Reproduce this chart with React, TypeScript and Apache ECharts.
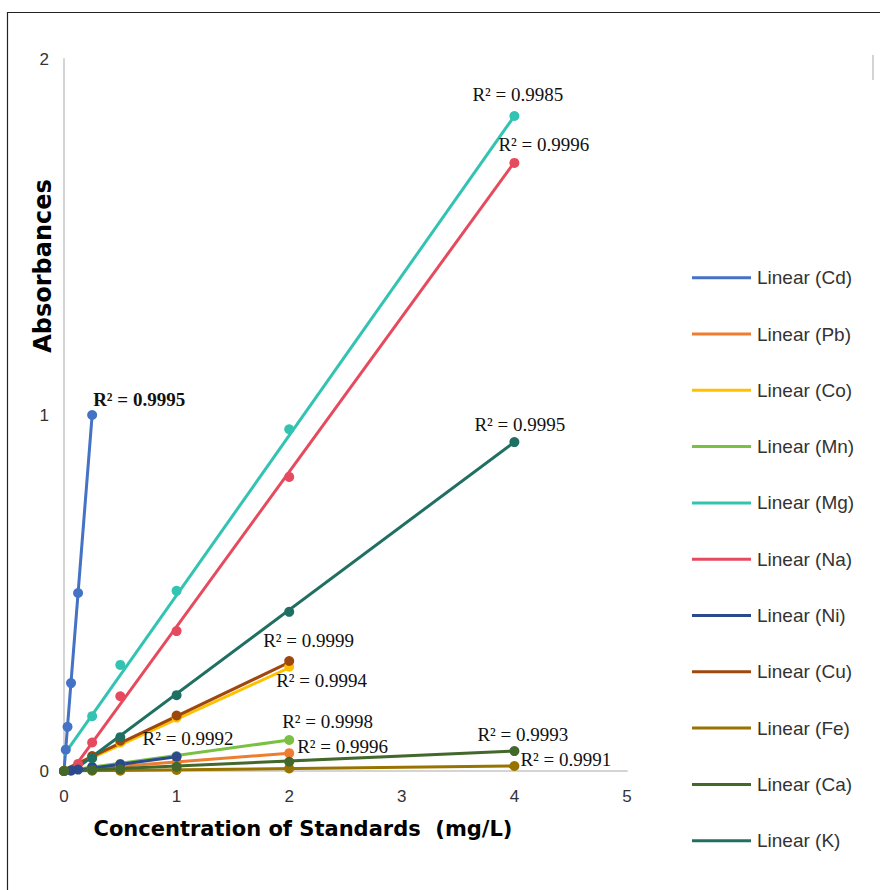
import React, { useEffect, useRef } from 'react';
import * as echarts from 'echarts';

// Elements (legend order)
const elements = ['Cd', 'Pb', 'Co', 'Mn', 'Mg', 'Na', 'Ni', 'Cu', 'Fe', 'Ca', 'K'];
const colors = ['#4472C4', '#ED7D31', '#FFC000', '#7AC143', '#33C3B2', '#E64A5E', '#2A4A8C', '#9E480E', '#997300', '#43682B', '#1F7062'];

// Measured data points (concentration mg/L, absorbance)
const cdX = [0, 0.015625, 0.03125, 0.0625, 0.125, 0.25];
const cdY = [0, 0.06, 0.124, 0.247, 0.5, 1.0];
const pbX = [0, 0.25, 0.5, 1, 2];
const pbY = [0, 0.006, 0.012, 0.023, 0.05];
const coX = [0, 0.25, 0.5, 1, 2];
const coY = [0, 0.038, 0.08, 0.15, 0.293];
const mnX = [0, 0.25, 0.5, 1, 2];
const mnY = [0, 0.01, 0.02, 0.042, 0.087];
const mgX = [0, 0.25, 0.5, 1, 2, 4];
const mgY = [0, 0.154, 0.298, 0.506, 0.96, 1.84];
const naX = [0.125, 0.25, 0.5, 1, 2, 4];
const naY = [0.02, 0.08, 0.21, 0.393, 0.826, 1.708];
const niX = [0.0625, 0.125, 0.25, 0.5, 1];
const niY = [0.001, 0.004, 0.011, 0.019, 0.04];
const cuX = [0, 0.25, 0.5, 1, 2];
const cuY = [0, 0.042, 0.085, 0.156, 0.309];
const feX = [0, 0.25, 0.5, 1, 2, 4];
const feY = [0, 0.001, 0.001, 0.003, 0.007, 0.014];
const caX = [0, 0.25, 0.5, 1, 2, 4];
const caY = [0, 0.003, 0.005, 0.012, 0.026, 0.056];
const kX = [0.25, 0.5, 1, 2, 4];
const kY = [0.036, 0.095, 0.213, 0.447, 0.924];

const dataX = [cdX, pbX, coX, mnX, mgX, naX, niX, cuX, feX, caX, kX];
const dataY = [cdY, pbY, coY, mnY, mgY, naY, niY, cuY, feY, caY, kY];

// Linear trendline end points
const trendStartX = [0, 0, 0, 0, 0, 0.125, 0.06, 0, 0, 0, 0.1];
const trendStartY = [0, 0.001, 0.001, 0, 0.045, 0.025, 0, 0.003, 0, 0, 0.005];
const trendEndX = [0.25, 2, 2, 2, 4, 4, 1, 2, 4, 4, 4];
const trendEndY = [1.0, 0.05, 0.29, 0.087, 1.84, 1.71, 0.04, 0.305, 0.014, 0.056, 0.924];

// R² values
const r2Values = ['0.9995', '0.9996', '0.9994', '0.9998', '0.9985', '0.9996', '0.9992', '0.9999', '0.9991', '0.9993', '0.9995'];

// Axis ticks
const xTicks = [0, 1, 2, 3, 4, 5];
const yTicks = [0, 1, 2];

// Label placement relative to trendline end (layout only)
const labelOffsets: number[][] = [
  [1, -16], [8, -7], [-13, 13], [-7, -19], [-42, -21], [-16, -18],
  [-34, -18], [-26, -22], [6, -7], [-37, -17], [-40, -18],
];

export default function App() {
  const ref = useRef<HTMLDivElement>(null);
  useEffect(() => {
    document.body.style.margin = '0';
    const chart = echarts.init(ref.current!, null, { renderer: 'svg' });
    const series: any[] = [];
    elements.forEach((el, i) => {
      series.push({
        type: 'line',
        name: `Linear (${el})`,
        data: [[trendStartX[i], trendStartY[i]], [trendEndX[i], trendEndY[i]]],
        symbol: 'none',
        lineStyle: { color: colors[i], width: 3 },
        itemStyle: { color: colors[i] },
        z: 2,
        silent: true,
      });
      series.push({
        type: 'scatter',
        name: el,
        data: dataX[i].map((x, j) => [x, dataY[i][j]]),
        symbolSize: 10,
        itemStyle: { color: colors[i], opacity: 1 },
        z: 3,
        silent: true,
      });
    });

    chart.setOption({
      animation: false,
      backgroundColor: '#fff',
      grid: { left: 64, top: 59, width: 563, height: 712, containLabel: false },
      xAxis: {
        type: 'value',
        min: xTicks[0],
        max: xTicks[xTicks.length - 1],
        interval: 1,
        axisLine: { show: true, onZero: false, lineStyle: { color: '#d4d4d4', width: 2 } },
        axisTick: { show: false },
        splitLine: { show: false },
        axisLabel: { margin: 17, fontSize: 17, color: '#333', fontFamily: 'Liberation Sans' },
      },
      yAxis: {
        type: 'value',
        min: yTicks[0],
        max: yTicks[yTicks.length - 1],
        interval: 1,
        axisLine: { show: true, onZero: false, lineStyle: { color: '#d4d4d4', width: 2 } },
        axisTick: { show: false },
        splitLine: { show: false },
        axisLabel: { margin: 15, fontSize: 17, color: '#333', fontFamily: 'Liberation Sans' },
      },
      legend: {
        data: elements.map((e) => `Linear (${e})`),
        orient: 'vertical',
        left: 692,
        top: 267.7,
        padding: 0,
        icon: 'rect',
        itemWidth: 59,
        itemHeight: 3,
        itemGap: 36.3,
        textStyle: { fontFamily: 'Liberation Sans', fontSize: 19, color: '#333', lineHeight: 20, padding: [0, 0, 0, 1] },
        selectedMode: false,
      },
      series,
    });

    const labels = elements.map((el, i) => {
      const p = chart.convertToPixel({ gridIndex: 0 }, [trendEndX[i], trendEndY[i]]) as number[];
      return {
        type: 'text',
        x: p[0] + labelOffsets[i][0],
        y: p[1] + labelOffsets[i][1],
        z: 10,
        silent: true,
        style: {
          text: `R² = ${r2Values[i]}`,
          fontFamily: 'Liberation Serif',
          fontSize: 19,
          fontWeight: i === 0 ? 'bold' : 'normal',
          fill: '#111',
          align: 'left',
          verticalAlign: 'middle',
        },
      };
    });

    chart.setOption({
      graphic: [
        {
          type: 'rect',
          shape: { x: 7.5, y: 12.5, width: 900, height: 900 },
          style: { fill: 'none', stroke: '#222', lineWidth: 1.2 },
          silent: true,
        },
        {
          type: 'line',
          shape: { x1: 873, y1: 55, x2: 873, y2: 80 },
          style: { stroke: '#d4d4d4', lineWidth: 2 },
          silent: true,
        },
        {
          type: 'text',
          x: 43,
          y: 266,
          rotation: Math.PI / 2,
          silent: true,
          style: {
            text: 'Absorbances',
            fontFamily: 'DejaVu Sans',
            fontWeight: 'bold',
            fontSize: 24,
            fill: '#000',
            align: 'center',
            verticalAlign: 'middle',
          },
        },
        {
          type: 'text',
          x: 303,
          y: 829,
          silent: true,
          style: {
            text: 'Concentration of Standards  (mg/L)',
            fontFamily: 'DejaVu Sans',
            fontWeight: 'bold',
            fontSize: 21,
            fill: '#000',
            align: 'center',
            verticalAlign: 'middle',
          },
        },
        ...labels,
      ],
    });

    return () => chart.dispose();
  }, []);
  return <div ref={ref} style={{ width: 880, height: 890 }} />;
}
